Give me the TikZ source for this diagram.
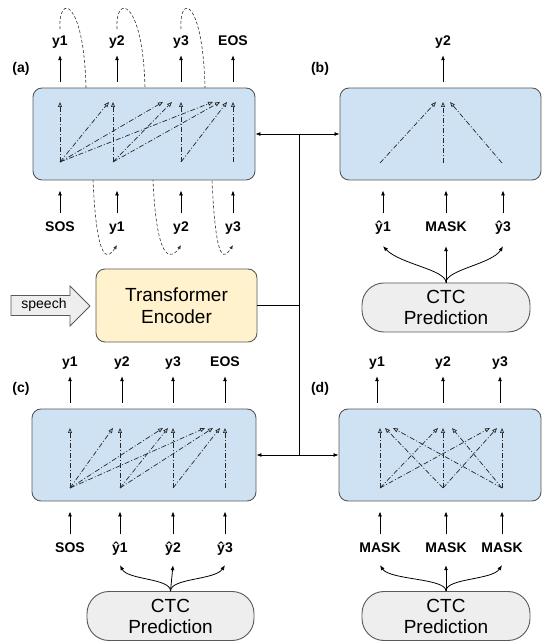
\documentclass[tikz,border=0pt]{standalone}
\usepackage{fontspec}
\setmainfont{Liberation Sans}
\usetikzlibrary{arrows.meta}
\definecolor{boxblue}{HTML}{CFE2F3}
\definecolor{encyellow}{HTML}{FFF2CC}
\definecolor{ctcgray}{HTML}{EEEEEE}
\definecolor{edgegray}{HTML}{595959}
\begin{document}
\begin{tikzpicture}[x=1pt,y=1pt,
    blk/.style={draw=edgegray, fill=boxblue, line width=0.9pt, rounded corners=9pt, minimum height=92pt},
    lbl/.style={font=\bfseries\fontsize{14}{16}\selectfont, text height=10pt, text depth=3pt, inner sep=1pt},
    paneltag/.style={font=\bfseries\fontsize{14}{16}\selectfont},
    ctc/.style={draw=edgegray, fill=ctcgray, line width=0.9pt, rounded corners=22pt, minimum width=168pt, minimum height=49pt, inner sep=1pt, align=center, font=\fontsize{19}{21}\selectfont},
    outarr/.style={-{Latex[length=5pt,width=4pt]}, line width=0.8pt, shorten <=6pt, shorten >=5.5pt},
    inarr/.style={-{Latex[length=5pt,width=4pt]}, line width=0.8pt, shorten <=7pt, shorten >=10pt},
    feed/.style={-{Latex[length=5pt,width=4pt]}, line width=0.8pt},
    att/.style={-{Triangle[open,length=5pt,width=4pt]}, draw=black!85, line width=0.7pt, dash pattern=on 5pt off 2pt on 1pt off 2pt},
    loopln/.style={-{Latex[length=4pt,width=3.5pt]}, draw=black!80, line width=0.6pt, dash pattern=on 3pt off 2pt}]
    \useasboundingbox (0,0) rectangle (543,642);
    % (a)
    \node[paneltag] (capa) at (21,573) {(a)};
    \foreach \n/\x/\t in {1/60/y1, 2/117/y2, 3/181/y3, 4/233/EOS}
        \node[lbl] (oa\n) at (\x,600) {\t};
    \foreach \n/\x/\t in {1/60/SOS, 2/117/y1, 3/181/y2, 4/233/y3}
        \node[lbl] (ia\n) at (\x,414) {\t};
    \foreach \a/\b/\p/\q in {1/2/86/93, 2/3/145/153, 3/4/205/212}
        \draw[loopln] ([yshift=5.5pt]oa\a.north) .. controls +(-2,36) and +(-2,89) .. (\p,554)
            -- (\q,462) .. controls +(4,-90) and +(-8,-12) .. ([yshift=-9.5pt]ia\b.south);
    \node[blk, minimum width=222pt] (boxa) at (144,508) {};
    \foreach \n/\x in {1/60, 2/113, 3/181, 4/233} {
        \coordinate (ab\n) at (\x,480);
        \coordinate (at\n) at (\x,540);
    }
    \foreach \s/\t/\d in {1/1/0, 1/2/-4, 1/3/-18, 1/4/-20, 2/2/0, 2/3/-9, 2/4/-13, 3/3/0, 3/4/-6, 4/4/0}
        \draw[att] (ab\s) -- ([xshift=\d pt]at\t);
    \foreach \n in {1,...,4} {
        \draw[outarr] (oa\n |- boxa.north) -- (oa\n);
        \draw[inarr] (ia\n) -- (ia\n |- boxa.south);
    }
    % (b)
    \node[paneltag] (capb) at (320,573) {(b)};
    \node[blk, minimum width=201pt] (boxb) at (440.5,508) {};
    \node[lbl] (ob2) at (443,600) {y2};
    \draw[outarr] (ob2 |- boxb.north) -- (ob2);
    \coordinate (bt) at (443,540);
    \foreach \n/\x/\d in {1/380/-7, 2/443/0, 3/502/7} {
        \coordinate (bb\n) at (\x,479);
        \draw[att] (bb\n) -- ([xshift=\d pt]bt);
    }
    \foreach \n/\x/\t in {1/383/ŷ1, 2/446/MASK, 3/503/ŷ3} {
        \node[lbl] (ib\n) at (\x,414) {\t};
        \draw[inarr] (ib\n) -- (ib\n |- boxb.south);
    }
    \node[ctc] (ctcb) at (446,334.5) {CTC\\Prediction};
    \draw[feed] (ctcb.north) .. controls +(0,13) and +(17,-18) .. ([yshift=-10.5pt]ib1.south);
    \draw[feed] (ctcb.north) -- ([yshift=-10.5pt]ib2.south);
    \draw[feed] (ctcb.north) .. controls +(0,13) and +(-11,-18) .. ([yshift=-10.5pt]ib3.south);
    % encoder
    \node[draw=edgegray, fill=encyellow, line width=0.9pt, rounded corners=9pt, minimum width=161pt, minimum height=73pt, align=center, font=\fontsize{19}{22}\selectfont] (enc) at (176.5,336.5) {Transformer\\Encoder};
    \filldraw[draw=edgegray, fill=ctcgray, line width=0.8pt] (11,326.5) -- (70,326.5) -- (70,316) -- (90,336) -- (70,356) -- (70,346.5) -- (11,346.5) -- cycle;
    \node[font=\fontsize{14}{16}\selectfont] (speech) at (44,337) {speech};
    % (c)
    \node[paneltag] (capc) at (21,253) {(c)};
    \node[blk, minimum width=224pt] (boxc) at (144,187) {};
    \foreach \n/\x/\t in {1/70/y1, 2/122/y2, 3/173/y3, 4/225/EOS}
        \node[lbl] (oc\n) at (\x,279) {\t};
    \foreach \n/\x/\t in {1/70/SOS, 2/120/ŷ1, 3/173/ŷ2, 4/225/ŷ3}
        \node[lbl] (ic\n) at (\x,93) {\t};
    \foreach \n/\x in {1/70, 2/120, 3/173, 4/225} {
        \coordinate (cb\n) at (\x,154);
        \coordinate (ct\n) at (\x,214);
    }
    \foreach \s/\t/\d in {1/1/0, 1/2/-7, 1/3/-10, 1/4/-20, 2/2/0, 2/3/-5, 2/4/-12, 3/3/0, 3/4/-5, 4/4/0}
        \draw[att] (cb\s) -- ([xshift=\d pt]ct\t);
    \foreach \n in {1,...,4} {
        \draw[outarr] (oc\n |- boxc.north) -- (oc\n);
        \draw[inarr] (ic\n) -- (ic\n |- boxc.south);
    }
    \node[ctc, minimum width=167pt] (ctcc) at (170.5,26) {CTC\\Prediction};
    \draw[feed] (ctcc.north) .. controls +(0,13) and +(8,-15) .. ([yshift=-8.5pt]ic2.south);
    \draw[feed] (ctcc.north) -- ([yshift=-8.5pt]ic3.south);
    \draw[feed] (ctcc.north) .. controls +(0,13) and +(-10,-15) .. ([yshift=-8.5pt]ic4.south);
    % (d)
    \node[paneltag] (capd) at (320,253) {(d)};
    \node[blk, minimum width=202pt] (boxd) at (440,187) {};
    \foreach \n/\x/\t in {1/377/y1, 2/443/y2, 3/500/y3}
        \node[lbl] (od\n) at (\x,279) {\t};
    \foreach \n/\x in {1/380, 2/446, 3/502}
        \node[lbl] (id\n) at (\x,93) {MASK};
    \foreach \n/\x in {1/380, 2/443, 3/502} {
        \coordinate (db\n) at (\x,154);
        \coordinate (dt\n) at (\x,214);
    }
    \foreach \s/\t/\d in {1/1/0, 2/1/5, 3/1/13, 1/2/-5, 2/2/0, 3/2/9, 1/3/-12, 2/3/-5, 3/3/0}
        \draw[att] (db\s) -- ([xshift=\d pt]dt\t);
    \foreach \n in {1,2,3} {
        \draw[outarr] (od\n |- boxd.north) -- (od\n);
        \draw[inarr] (id\n) -- (id\n |- boxd.south);
    }
    \node[ctc] (ctcd) at (446,26) {CTC\\Prediction};
    \draw[feed] (ctcd.north) .. controls +(0,13) and +(10,-15) .. ([yshift=-8.5pt]id1.south);
    \draw[feed] (ctcd.north) -- ([yshift=-8.5pt]id2.south);
    \draw[feed] (ctcd.north) .. controls +(0,13) and +(-10,-15) .. ([yshift=-8.5pt]id3.south);
    % encoder to decoders
    \coordinate (jt) at (299,508);
    \coordinate (jm) at (299,336.5);
    \coordinate (jb) at (299,187);
    \draw[line width=0.8pt] (jt) -- (jb);
    \draw[line width=0.8pt] (enc.east) -- (jm);
    \draw[feed] (jt) -- (boxa.east);
    \draw[feed] (jt) -- (boxb.west);
    \draw[feed] (jb) -- (boxc.east);
    \draw[feed] (jb) -- (boxd.west);
\end{tikzpicture}
\end{document}
